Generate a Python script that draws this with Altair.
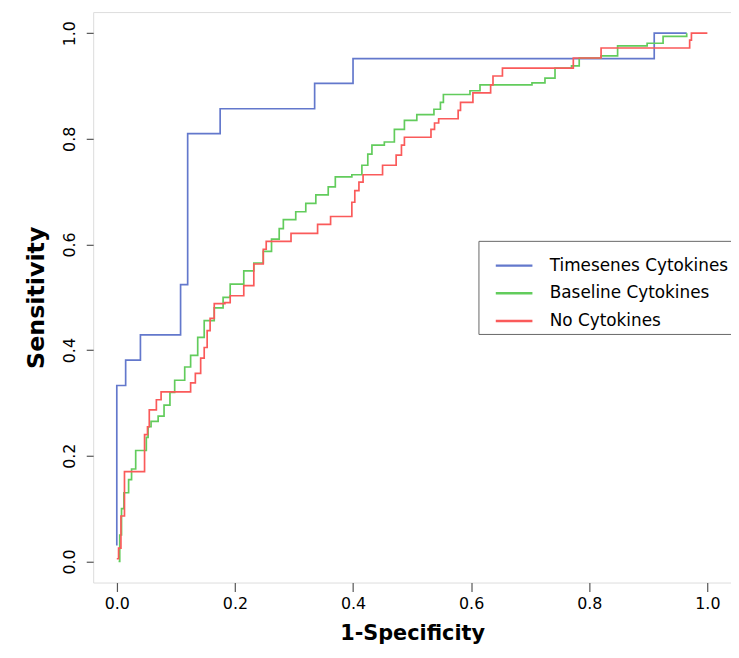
import altair as alt
import pandas as pd

series_names = ["Timesenes Cytokines", "Baseline Cytokines", "No Cytokines"]
series_colors = ["#6378cc", "#62cc5c", "#fa5a5a"]

# Timesenes Cytokines (step corners: x where the curve jumps, new sensitivity)
blue_x = [0.0, 0.0, 0.015, 0.04, 0.108, 0.12, 0.175, 0.335, 0.4, 0.91, 0.965]
blue_y = [0.03, 0.333, 0.381, 0.429, 0.524, 0.81, 0.857, 0.905, 0.952, 1.0, 1.0]

# Baseline Cytokines
green_x = [0.003, 0.005, 0.008, 0.012, 0.02, 0.025, 0.032, 0.05, 0.053, 0.058,
           0.07, 0.08, 0.09, 0.098, 0.115, 0.125, 0.137, 0.148, 0.165, 0.18,
           0.192, 0.215, 0.232, 0.248, 0.262, 0.275, 0.282, 0.303, 0.32, 0.337,
           0.358, 0.37, 0.398, 0.415, 0.425, 0.432, 0.453, 0.47, 0.487, 0.508,
           0.537, 0.548, 0.553, 0.598, 0.615, 0.703, 0.725, 0.742, 0.77, 0.783,
           0.82, 0.848, 0.898, 0.925, 0.965]
green_y = [0.0, 0.05, 0.1, 0.13, 0.155, 0.175, 0.21, 0.235, 0.255, 0.265,
           0.275, 0.296, 0.32, 0.343, 0.368, 0.39, 0.424, 0.456, 0.48, 0.5,
           0.525, 0.55, 0.565, 0.587, 0.61, 0.63, 0.647, 0.662, 0.678, 0.694,
           0.709, 0.728, 0.732, 0.75, 0.771, 0.788, 0.794, 0.818, 0.835, 0.846,
           0.856, 0.869, 0.884, 0.891, 0.902, 0.906, 0.915, 0.934, 0.938, 0.953,
           0.957, 0.976, 0.981, 0.994, 1.0]

# No Cytokines
red_x = [0.0, 0.003, 0.007, 0.013, 0.047, 0.052, 0.055, 0.067, 0.075, 0.125,
         0.133, 0.142, 0.148, 0.153, 0.158, 0.165, 0.183, 0.192, 0.215, 0.232,
         0.248, 0.253, 0.295, 0.34, 0.362, 0.398, 0.403, 0.41, 0.417, 0.45,
         0.473, 0.482, 0.487, 0.532, 0.538, 0.545, 0.578, 0.582, 0.603, 0.633,
         0.637, 0.653, 0.773, 0.82, 0.97, 0.973, 1.0]
red_y = [0.005, 0.025, 0.086, 0.17, 0.24, 0.255, 0.287, 0.306, 0.321, 0.338,
         0.356, 0.385, 0.405, 0.437, 0.46, 0.488, 0.49, 0.503, 0.522, 0.563,
         0.591, 0.606, 0.621, 0.638, 0.653, 0.68, 0.702, 0.718, 0.732, 0.75,
         0.769, 0.788, 0.803, 0.818, 0.83, 0.838, 0.854, 0.869, 0.887, 0.902,
         0.919, 0.934, 0.953, 0.972, 0.987, 1.0, 1.0]

tick_values = [0.0, 0.2, 0.4, 0.6, 0.8, 1.0]

rows = []
for name, xs, ys in zip(series_names, [blue_x, green_x, red_x], [blue_y, green_y, red_y]):
    for i, (xv, yv) in enumerate(zip(xs, ys)):
        rows.append({"x": xv, "y": yv, "series": name, "idx": i})
df = pd.DataFrame(rows)

font = "DejaVu Sans"

chart = alt.Chart(df).mark_line(interpolate="step-after", strokeWidth=1.7).encode(
    x=alt.X("x:Q",
            scale=alt.Scale(domain=[-0.04, 1.04], nice=False, zero=False),
            axis=alt.Axis(title="1-Specificity", values=tick_values, format=".1f",
                          grid=False, domain=False, tickSize=9, tickColor="#555",
                          tickWidth=1.2, labelPadding=4, labelFontSize=16,
                          labelColor="#000", titleFontSize=21, titleFontWeight="bold",
                          titleColor="#000", titlePadding=12, labelFont=font,
                          titleFont=font)),
    y=alt.Y("y:Q",
            scale=alt.Scale(domain=[-0.04, 1.04], nice=False, zero=False),
            axis=alt.Axis(title="Sensitivity", values=tick_values, format=".1f",
                          grid=False, domain=False, tickSize=7, tickColor="#555",
                          tickWidth=1.2, labelAngle=270, labelAlign="center",
                          labelBaseline="bottom", labelPadding=9, labelFontSize=16,
                          labelColor="#000", titleFontSize=24, titleFontWeight="bold",
                          titleColor="#000", titlePadding=13, labelFont=font,
                          titleFont=font)),
    color=alt.Color("series:N",
                    scale=alt.Scale(domain=series_names, range=series_colors),
                    legend=alt.Legend(title=None, orient="none", legendX=389,
                                      legendY=231, strokeColor="#666",
                                      fillColor="white", padding=5,
                                      symbolType="stroke", symbolSize=1369,
                                      symbolOffset=11, symbolStrokeWidth=2.5,
                                      labelFontSize=17, labelFont=font,
                                      labelColor="#000", labelOffset=16,
                                      rowPadding=-15, labelLimit=300)),
    order="idx:Q",
).properties(
    width=644,
    height=576,
    autosize=alt.AutoSizeParams(type="none"),
    padding={"left": 86, "top": 1, "right": 0, "bottom": 65},
).configure_view(
    stroke="#666", strokeWidth=1.4
).configure(
    font=font
)

chart.save("out.html", embed_options={"renderer": "svg", "actions": False})
